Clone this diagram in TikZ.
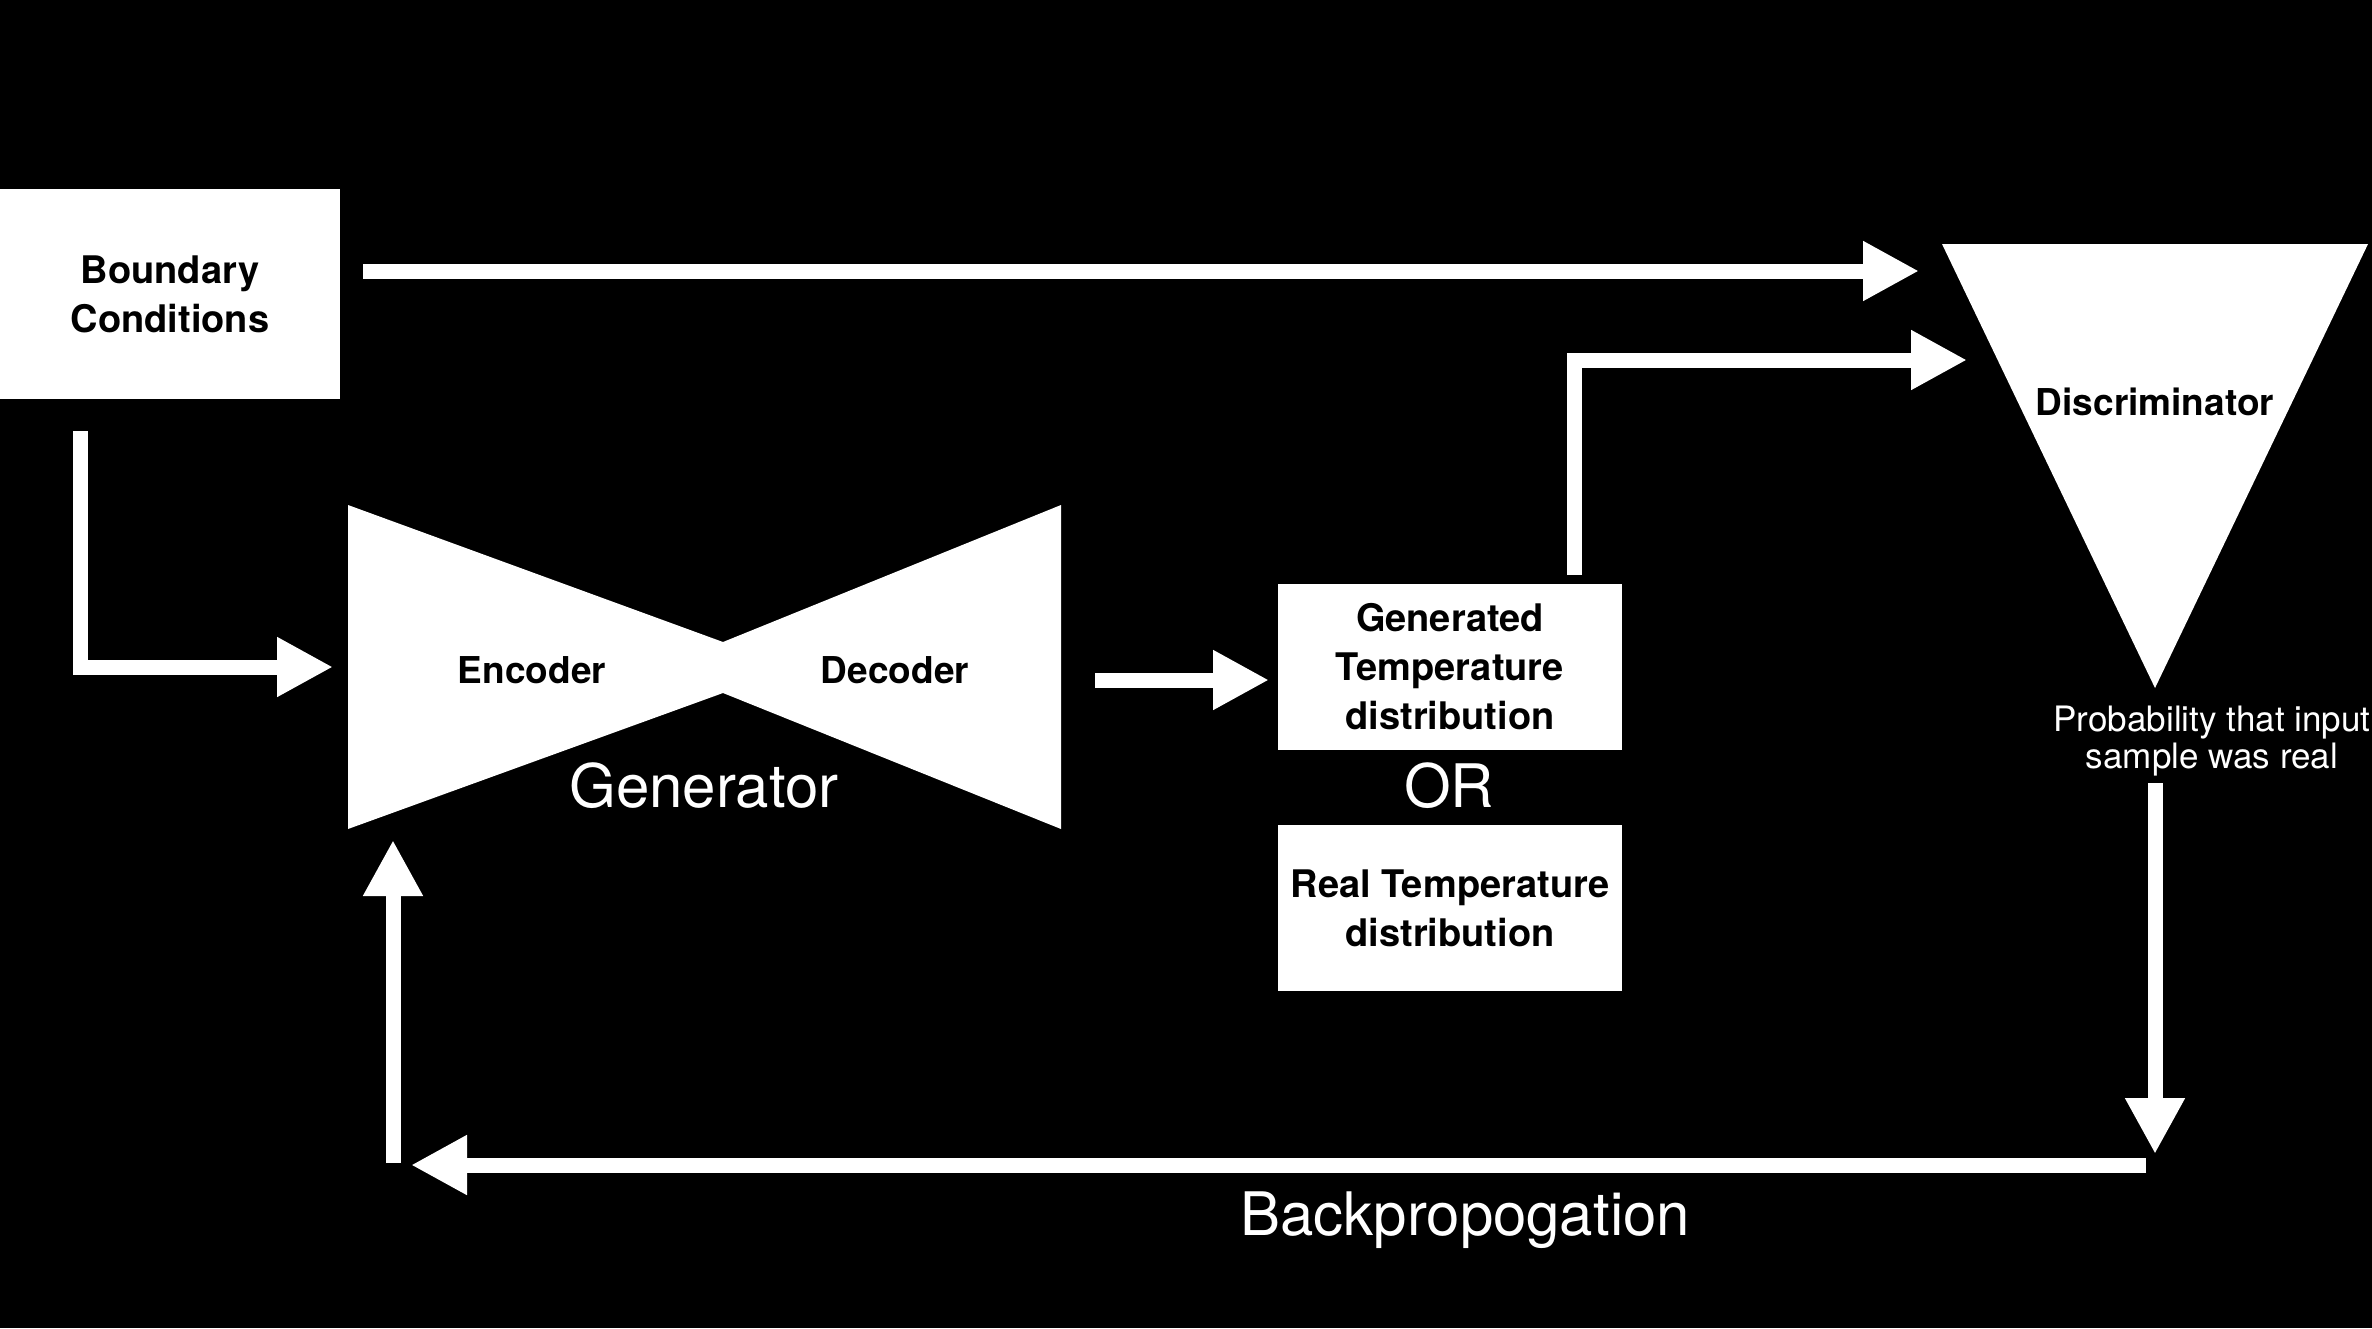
\documentclass[tikz,border=0pt]{standalone}
\usepackage{fontspec}
\setmainfont{TeX Gyre Heros}
\usetikzlibrary{arrows.meta}

\tikzset{
	flow/.style={draw=white, line width=15pt, -{Triangle[length=56pt,width=56pt]}},
	databox/.style={fill=white, text=black, inner sep=0pt, align=center, minimum width=344pt, minimum height=166pt, font=\fontsize{38}{49}\selectfont\bfseries},
	darktext/.style={text=black, inner sep=0pt, font=\fontsize{37}{48}\selectfont\bfseries},
	bigtext/.style={text=white, inner sep=0pt, anchor=base, font=\fontsize{60}{72}\selectfont},
}

\begin{document}
\begin{tikzpicture}[x=1pt, y=-1pt]
				\fill[black] (0,0) rectangle (2372,1328);
				% inputs and samples
				\node[databox, minimum width=340pt, minimum height=210pt] (bc) at (170,294) {Boundary\\Conditions};
				\node[databox] (gtd) at (1450,667) {Generated\\Temperature\\distribution};
				\node[databox] (rtd) at (1450,908) {Real Temperature\\distribution};
				\node[bigtext] (or) at (1449,807) {OR};
				% generator
				\fill[white] (348,505) -- (723,642) -- (1061,505) -- (1061,829) -- (723,693) -- (348,829) -- cycle;
				\node[darktext, anchor=base] (enc) at (532,683) {Encoder};
				\node[darktext, anchor=base] (dec) at (895,683) {Decoder};
				\node[bigtext] (gen) at (704,807) {Generator};
				% discriminator
				\fill[white] (1942,244) -- (2368,244) -- (2155,688) -- cycle;
				\node[darktext] (disc) at (2155,402) {Discriminator};
				\node[text=white, inner sep=0pt, align=center, font=\fontsize{35}{37}\selectfont] (prob) at (2212,741) {Probability that input\\sample was real};
				\node[bigtext] (bp) at (1465,1235) {Backpropogation};
				% arrow ends
				\coordinate (bcA) at (363,271);
				\coordinate (dInA) at (1919,271);
				\coordinate (bcB) at (80,431);
				\coordinate (genIn) at (333,667);
				\coordinate (genOut) at (1095,680);
				\coordinate (gtdIn) at (1269,680);
				\coordinate (gtdOut) at (1574,575);
				\coordinate (dInB) at (1967,360);
				\coordinate (dOut) at (2155,783);
				\coordinate (bpA) at (2155,1154);
				\coordinate (bpB) at (2146,1165);
				\coordinate (bpC) at (411,1165);
				\coordinate (bpD) at (393,1163);
				\coordinate (genBack) at (393,840);
				\draw[flow] (bcA) -- (dInA);
				\draw[flow] (bcB) |- (genIn);
				\draw[flow] (genOut) -- (gtdIn);
				\draw[flow] (gtdOut) |- (dInB);
				\draw[flow] (dOut) -- (bpA);
				\draw[flow] (bpB) -- (bpC);
				\draw[flow] (bpD) -- (genBack);
\end{tikzpicture}
\end{document}
